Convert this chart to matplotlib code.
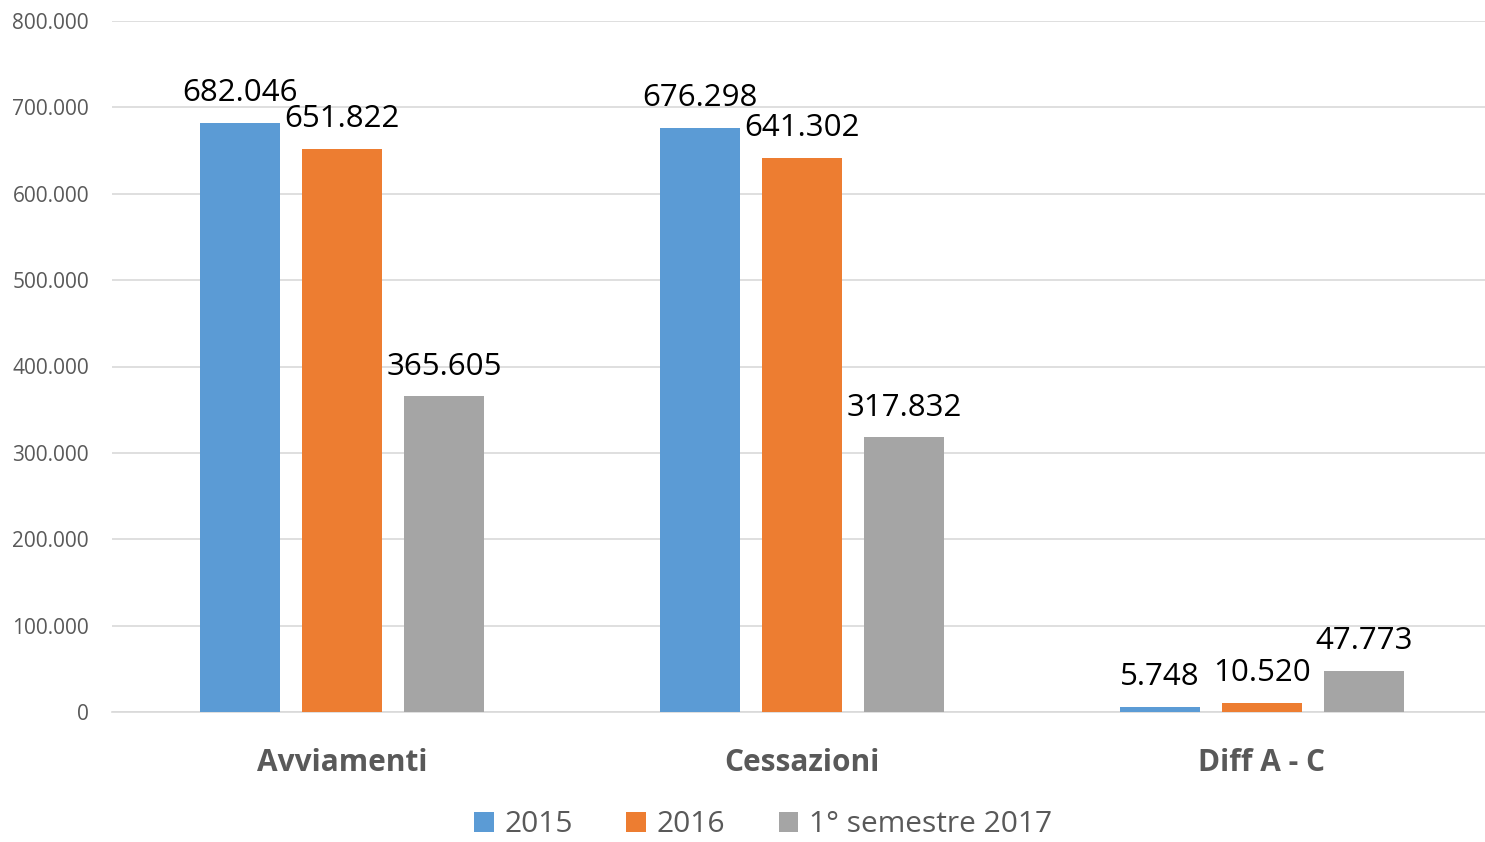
import numpy as np
import matplotlib.pyplot as plt
from matplotlib.ticker import FuncFormatter

plt.rcParams['font.family'] = ['Open Sans', 'DejaVu Sans']

categories = ['Avviamenti', 'Cessazioni', 'Diff A - C']
series_names = ['2015', '2016', '1° semestre 2017']
values_2015 = [682046, 676298, 5748]
values_2016 = [651822, 641302, 10520]
values_2017 = [365605, 317832, 47773]
colors = ['#5B9BD5', '#ED7D31', '#A5A5A5']


def it_fmt(v, pos=None):
    return f'{int(round(v)):,}'.replace(',', '.')


fig = plt.figure(figsize=(14.85, 8.42), dpi=100)
ax = fig.add_axes([112 / 1485, 1 - 712 / 842, 1380 / 1485, 691 / 842])

x = np.arange(len(categories))
width = 0.174
step = 0.222
for i, (vals, name) in enumerate(zip([values_2015, values_2016, values_2017], series_names)):
    pos = x + (i - 1) * step
    ax.bar(pos, vals, width=width, color=colors[i], label=name, zorder=3)
    for xp, v in zip(pos, vals):
        ax.annotate(it_fmt(v), (xp, v), xytext=(0, 10.5), textcoords='offset points',
                    ha='center', va='bottom', fontsize=22.5, color='black', zorder=4)

ax.set_xlim(-0.5, 2.5)
ax.set_ylim(0, 800000)
ax.set_yticks(np.arange(0, 800001, 100000))
ax.yaxis.set_major_formatter(FuncFormatter(it_fmt))
ax.grid(axis='y', color='#D9D9D9', linewidth=1.2, zorder=0)
ax.set_xticks(x)
ax.set_xticklabels(categories, fontsize=21.5, fontweight='bold', color='#595959')
ax.tick_params(axis='x', length=0, pad=26)
ax.tick_params(axis='y', length=0, labelsize=15, labelcolor='#595959', pad=16.5)
for s in ['top', 'right', 'left']:
    ax.spines[s].set_visible(False)
ax.spines['bottom'].set_color('#D9D9D9')
ax.spines['bottom'].set_linewidth(1.2)

fig.legend(loc='center', bbox_to_anchor=(763 / 1485, 1 - 825 / 842), ncol=3,
           frameon=False, fontsize=21.5, handlelength=0.65, handleheight=0.65,
           handletextpad=0.35, columnspacing=1.8, labelcolor='#595959',
           borderpad=0.2)

fig.savefig('out.png', dpi=100)
